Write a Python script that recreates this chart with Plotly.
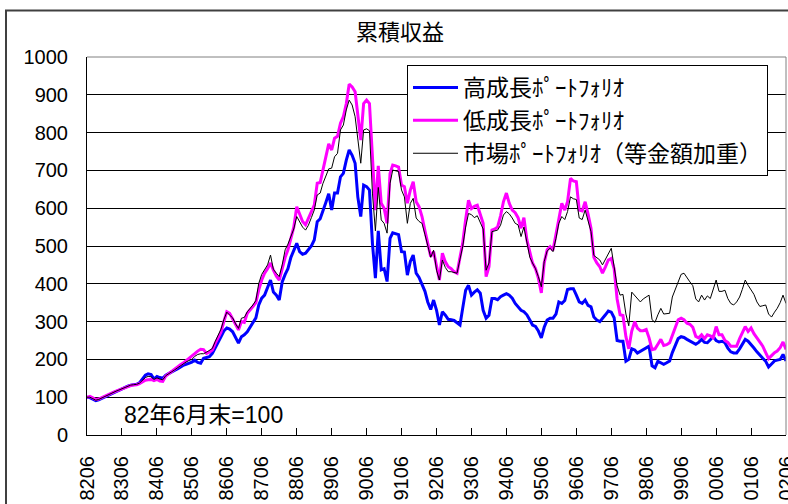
import pandas as pd
import plotly.graph_objects as go

# Monthly cumulative returns, 1982/06 = 100 (through 2002/06)
START_MONTH = "1982-06-01"
N_MONTHS = 241

HIGH_GROWTH = [
    100, 99, 95, 91, 93, 97, 101, 104, 108, 112, 115, 118,
    122, 127, 129, 132, 133, 134, 138, 148, 158, 162, 160, 148,
    155, 152, 150, 158, 163, 166, 171, 175, 180, 184, 187, 189,
    193, 198, 192, 190, 203, 205, 207, 216, 230, 244, 260, 275,
    283, 280, 273, 258, 243, 260, 265, 273, 287, 298, 310, 344,
    362, 370, 390, 410, 378, 370, 357, 405, 425, 440, 470, 490,
    507, 485, 478, 481, 490, 500, 516, 564, 572, 595, 615, 638,
    595, 640, 640, 683, 692, 727, 754, 740, 719, 630, 578, 661,
    657, 648, 507, 415, 540, 437, 440, 406, 520, 535, 532, 530,
    485, 484, 423, 459, 476, 428, 417, 400, 380, 352, 332, 357,
    330, 291, 326, 317, 306, 305, 303, 297, 291, 335, 383, 396,
    370, 378, 384, 375, 330, 309, 317, 361, 361, 358, 366, 370,
    374, 370, 362, 348, 340, 330, 326, 318, 304, 291, 287, 275,
    257, 285, 304, 309, 309, 320, 352, 348, 356, 385, 387, 387,
    370, 352, 348, 357, 343, 339, 312, 304, 300, 310, 318, 328,
    325, 310, 250, 248, 248, 195, 200, 228, 225, 217, 222, 226,
    230, 235, 183, 178, 195, 192, 187, 191, 196, 218, 239, 255,
    260, 258, 253, 248, 244, 240, 245, 253, 245, 244, 252, 261,
    250, 246, 248, 244, 230, 220, 217, 217, 228, 240, 253, 248,
    240, 230, 220, 210, 203, 195, 180, 188, 196, 198, 200, 213,
    196,
]

LOW_GROWTH = [
    100, 102, 98, 94, 95, 99, 102, 105, 109, 113, 116, 119,
    121, 126, 128, 131, 132, 133, 136, 141, 145, 146, 147, 144,
    147, 143, 142, 156, 162, 167, 174, 181, 186, 190, 196, 201,
    207, 215, 222, 227, 226, 216, 219, 225, 243, 256, 272, 300,
    326, 322, 307, 291, 278, 300, 298, 322, 330, 340, 350, 384,
    410, 428, 440, 455, 436, 420, 410, 440, 470, 490, 520, 550,
    604, 585, 565, 556, 573, 590, 608, 666, 668, 700, 735, 770,
    754, 785, 790, 825, 842, 877, 928, 921, 908, 851, 780, 877,
    886, 877, 745, 595, 712, 613, 600, 560, 692, 714, 712, 709,
    661, 657, 613, 648, 670, 617, 604, 578, 540, 505, 472, 485,
    445, 410, 481, 458, 445, 440, 432, 428, 470, 507, 570, 621,
    599, 605, 608, 586, 560, 419, 445, 542, 545, 550, 580, 617,
    640, 613, 595, 588, 575, 547, 575, 516, 480, 455, 440, 415,
    376, 455, 490, 498, 489, 530, 580, 613, 595, 617, 679, 672,
    670, 595, 593, 617, 585, 547, 470, 455, 445, 428, 445, 463,
    467, 440, 360, 318, 316, 260, 228, 275, 300, 283, 276, 276,
    279, 257, 226, 228, 240, 253, 237, 239, 244, 265, 287, 305,
    309, 305, 296, 293, 285, 261, 257, 265, 255, 265, 262, 257,
    287, 265, 265, 250, 245, 235, 235, 235, 255, 270, 287, 274,
    283, 268, 257, 245, 235, 218, 202, 210, 218, 222, 231, 246,
    226,
]

MARKET = [
    100, 100, 96, 92, 94, 98, 101, 104, 108, 112, 116, 119,
    122, 127, 129, 132, 133, 134, 137, 145, 152, 155, 154, 147,
    151, 148, 146, 157, 163, 167, 172, 178, 184, 188, 193, 197,
    200, 208, 213, 215, 215, 219, 224, 229, 248, 262, 280, 305,
    325, 317, 310, 294, 282, 309, 311, 326, 335, 344, 356, 401,
    425, 436, 450, 476, 438, 428, 419, 450, 490, 505, 525, 545,
    578, 566, 550, 542, 555, 575, 595, 635, 640, 665, 685, 704,
    706, 736, 745, 807, 820, 860, 886, 873, 842, 789, 719, 807,
    810, 805, 640, 540, 655, 569, 560, 534, 666, 701, 698, 697,
    648, 630, 560, 613, 626, 574, 565, 560, 530, 500, 470, 489,
    436, 410, 463, 443, 432, 432, 430, 428, 465, 498, 550, 586,
    583, 575, 580, 560, 545, 436, 455, 538, 540, 542, 555, 582,
    591, 585, 574, 560, 556, 525, 550, 507, 470, 455, 440, 419,
    392, 459, 487, 494, 485, 520, 560, 578, 570, 591, 630, 625,
    623, 574, 570, 595, 570, 538, 475, 468, 463, 450, 465, 481,
    494, 445, 395, 370, 372, 320, 289, 378, 370, 360, 352, 360,
    365, 370, 305, 298, 318, 335, 320, 322, 322, 365, 385, 405,
    425, 428, 415, 405, 395, 360, 352, 370, 357, 368, 361, 383,
    410, 380, 380, 383, 361, 348, 344, 352, 365, 385, 410, 396,
    385, 372, 352, 340, 342, 344, 320, 312, 325, 335, 350, 370,
    348,
]

SERIES_NAMES = ["高成長ﾎﾟｰﾄﾌｫﾘｵ", "低成長ﾎﾟｰﾄﾌｫﾘｵ", "市場ﾎﾟｰﾄﾌｫﾘｵ（等金額加重）"]
TICK_LABELS = ["8206", "8306", "8406", "8506", "8606", "8706", "8806", "8906",
               "9006", "9106", "9206", "9306", "9406", "9506", "9606", "9706",
               "9806", "9906", "0006", "0106", "0206"]
Y_TICKS = [0, 100, 200, 300, 400, 500, 600, 700, 800, 900, 1000]
TITLE = "累積収益"
NOTE = "82年6月末=100"

dates = pd.date_range(START_MONTH, periods=N_MONTHS, freq="MS")
tick_dates = dates[::12]

FONT = "Liberation Sans, Arial, Noto Sans CJK JP"

fig = go.Figure()
styles = [("#0000FF", 3), ("#FF00FF", 3), ("#000000", 1)]
for name, vals, (col, w) in zip(SERIES_NAMES, [HIGH_GROWTH, LOW_GROWTH, MARKET], styles):
    fig.add_trace(go.Scatter(x=dates, y=vals, mode="lines", name=name,
                             legendgroup=name,
                             line=dict(color=col, width=w)))

W, H = 788, 504
L, R, T, B = 87, 2, 57, 69
pw, ph = W - L - R, H - T - B

def px_x(p):
    return (p - L) / pw

def px_y(p):
    return (H - B - p) / ph

fig.update_layout(
    width=W, height=H,
    margin=dict(l=L, r=R, t=T, b=B, autoexpand=False),
    paper_bgcolor="white", plot_bgcolor="white",
    font=dict(family=FONT, color="black", size=20),
    title=dict(text=TITLE, x=400 / W, y=1 - 32 / H, xanchor="center", yanchor="middle",
               font=dict(size=22, family="Noto Sans CJK JP")),
    showlegend=True,
    legend=dict(x=px_x(407), y=px_y(65), xanchor="left", yanchor="top",
                bgcolor="white", bordercolor="#000000", borderwidth=1,
                font=dict(size=23, family="Noto Sans CJK JP"),
                tracegroupgap=0, itemwidth=45),
    xaxis=dict(type="date", range=[dates[0], dates[-1]], automargin=False,
               tickvals=list(tick_dates), ticktext=TICK_LABELS,
               tickangle=-90, ticks="inside", ticklen=7, tickcolor="black",
               showline=True, linecolor="black", linewidth=1,
               showgrid=False, zeroline=False, ticklabelstandoff=12,
               ticklabeloverflow="allow",
               tickfont=dict(size=20)),
    yaxis=dict(range=[0, 1000], tickvals=Y_TICKS, automargin=False,
               showgrid=True, gridcolor="#000000", gridwidth=1,
               showline=True, linecolor="black", linewidth=1,
               ticks="", zeroline=False, ticklabelstandoff=14,
               tickfont=dict(size=20)),
    annotations=[dict(text=NOTE, xref="paper", yref="paper",
                      x=px_x(122), y=px_y(415), xanchor="left", yanchor="middle",
                      showarrow=False, font=dict(size=23))],
    shapes=[
        dict(type="line", xref="paper", yref="paper", x0=0, x1=1, y0=1, y1=1,
             line=dict(color="#808080", width=1), layer="above"),
        dict(type="line", xref="paper", yref="paper", x0=1, x1=1, y0=0, y1=1,
             line=dict(color="#808080", width=1), layer="above"),
        dict(type="rect", xref="paper", yref="paper",
             x0=px_x(6), x1=px_x(820), y0=px_y(540), y1=px_y(10.5),
             line=dict(color="#404040", width=2), layer="below"),
    ],
)

fig.write_html("out.html")
